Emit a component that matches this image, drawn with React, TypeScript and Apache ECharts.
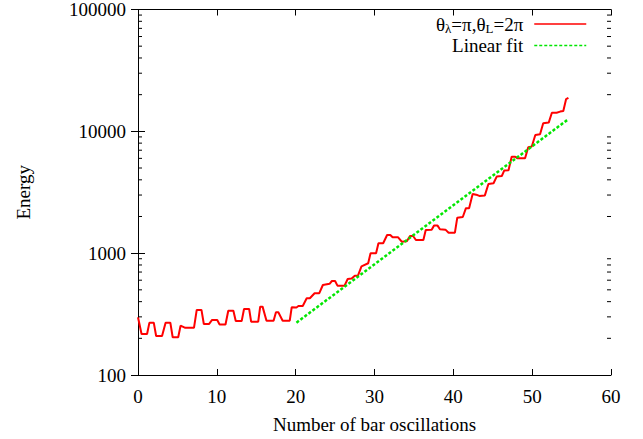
import { useEffect, useRef } from 'react';
import * as echarts from 'echarts';

const xTicks = [0, 10, 20, 30, 40, 50, 60];
const yRange = [100, 100000];
const minorTickValues = [
  200, 300, 400, 500, 600, 700, 800, 900,
  2000, 3000, 4000, 5000, 6000, 7000, 8000, 9000,
  20000, 30000, 40000, 50000, 60000, 70000, 80000, 90000,
];

const oscillations = [
  0.0, 0.45, 1.15, 1.45, 2.0, 2.3, 3.05, 3.5, 4.1, 4.4, 5.1, 5.4, 6.0, 7.1, 7.45, 8.05, 8.35, 9.0, 9.4, 10.05,
  10.35, 11.1, 11.45, 12.1, 12.4, 13.15, 13.45, 14.1, 14.35, 15.25, 15.5, 15.8, 16.3, 17.2, 17.5, 17.8, 18.35, 19.25,
  19.5, 20.1, 20.35, 20.9, 21.4, 21.8, 22.4, 23.0, 23.45, 24.3, 24.6, 25.0, 25.3, 26.2, 26.6, 27.1, 27.5, 27.9,
  28.35, 29.2, 29.5, 30.2, 30.5, 31.1, 31.6, 32.0, 32.3, 33.0, 33.45, 34.1, 34.5, 34.9, 35.25, 36.2, 36.5, 37.25,
  37.55, 38.0, 38.3, 39.0, 39.4, 40.2, 40.5, 41.2, 41.6, 42.0, 42.45, 43.05, 43.3, 44.0, 44.45, 45.1, 45.5, 46.15,
  46.45, 47.0, 47.4, 47.85, 48.1, 49.1, 49.5, 49.95, 50.4, 51.0, 51.4, 52.1, 52.5, 53.1, 53.55, 53.95, 54.3, 54.6,
];
const energy = [
  298, 217, 217, 269, 269, 209, 209, 269, 269, 204, 204, 254, 244, 244, 342, 342, 262, 262, 283, 283,
  260, 260, 337, 337, 277, 277, 348, 348, 274, 274, 364, 364, 279, 279, 327, 327, 279, 279,
  360, 358, 368, 368, 427, 427, 469, 469, 548, 560, 591, 591, 541, 541, 614, 620, 653, 653,
  780, 826, 1000, 1000, 1205, 1205, 1409, 1409, 1349, 1349, 1242, 1250, 1383, 1383, 1282, 1282, 1550, 1560,
  1683, 1683, 1570, 1560, 1472, 1472, 1955, 1980, 2340, 2340, 3060, 3000, 2950, 2980, 3700, 3750, 4250, 4300,
  4760, 4800, 6195, 6195, 6010, 6010, 7400, 7500, 9330, 9450, 11640, 11800, 14220, 14220, 14520, 14700, 18370, 18800,
];

const fitX = [20.1, 54.6];
const fitEnergy = [269, 12600];

const seriesNames = ['theta', 'Linear fit'];

const FONT = 'Liberation Serif';
const RED = '#ff0000';
const GREEN = '#00e600';

export default function App() {
  const ref = useRef<HTMLDivElement>(null);

  useEffect(() => {
    if (!ref.current) return;
    const chart = echarts.init(ref.current, null, { renderer: 'svg' });
    const xMin = xTicks[0];
    const xMax = xTicks[xTicks.length - 1];

    const baseText = { fontFamily: FONT, fontSize: 19, color: '#000' };

    const legendCommon = {
      orient: 'vertical',
      align: 'right',
      right: 56,
      padding: 0,
      itemWidth: 52,
      itemHeight: 14,
    };

    chart.setOption({
      animation: false,
      backgroundColor: '#fff',
      grid: { left: 138, right: 32, top: 9, bottom: 64, containLabel: false },
      legend: [
        {
          ...legendCommon,
          top: 13,
          data: [{ name: seriesNames[0], lineStyle: { width: 1.5, color: RED }, itemStyle: { opacity: 0 } }],
          formatter: () => '{n|θ}{s|λ}{n|=π,θ}{s|L}{n|=2π}',
          textStyle: {
            ...baseText,
            padding: [0, 6, 0, 0],
            rich: {
              n: { fontFamily: FONT, fontSize: 19, color: '#000', lineHeight: 20 },
              s: { fontFamily: FONT, fontSize: 13, color: '#000', lineHeight: 11, padding: [9, 0, 0, 0] },
            },
          },
        },
        {
          ...legendCommon,
          top: 36,
          data: [{ name: seriesNames[1], lineStyle: { width: 1.5, color: GREEN, type: [3, 2] }, itemStyle: { opacity: 0 } }],
          textStyle: { ...baseText, lineHeight: 15, padding: [0, 6, 0, 0] },
        },
      ],
      xAxis: [
        {
          type: 'value',
          min: xMin,
          max: xMax,
          interval: 10,
          name: 'Number of bar oscillations',
          nameLocation: 'middle',
          nameGap: 40,
          nameTextStyle: baseText,
          axisLine: { show: true, lineStyle: { color: '#000', width: 1 } },
          axisTick: { show: true, inside: true, length: 6, lineStyle: { color: '#000' } },
          axisLabel: { ...baseText, margin: 12 },
          splitLine: { show: false },
        },
        {
          type: 'value',
          position: 'top',
          min: xMin,
          max: xMax,
          interval: 10,
          axisLine: { show: true, lineStyle: { color: '#000', width: 1 } },
          axisTick: { show: true, inside: true, length: 6, lineStyle: { color: '#000' } },
          axisLabel: { show: false },
          splitLine: { show: false },
        },
      ],
      yAxis: [
        {
          type: 'log',
          logBase: 10,
          min: yRange[0],
          max: yRange[1],
          name: 'Energy',
          nameLocation: 'middle',
          nameGap: 105,
          nameTextStyle: baseText,
          axisLine: { show: true, lineStyle: { color: '#000', width: 1 } },
          axisTick: { show: true, inside: true, length: 7, lineStyle: { color: '#000' } },
          axisLabel: { ...baseText, margin: 12, formatter: (v: number) => String(Math.round(v)) },
          splitLine: { show: false },
        },
        {
          type: 'log',
          logBase: 10,
          position: 'right',
          min: yRange[0],
          max: yRange[1],
          axisLine: { show: true, lineStyle: { color: '#000', width: 1 } },
          axisTick: { show: true, inside: true, length: 7, lineStyle: { color: '#000' } },
          axisLabel: { show: false },
          splitLine: { show: false },
        },
      ],
      series: [
        {
          name: seriesNames[0],
          type: 'line',
          data: oscillations.map((x, i) => [x, energy[i]]),
          symbol: 'none',
          lineStyle: { color: RED, width: 2 },
          itemStyle: { color: RED },
          z: 3,
        },
        {
          name: seriesNames[1],
          type: 'line',
          data: fitX.map((x, i) => [x, fitEnergy[i]]),
          symbol: 'none',
          lineStyle: { color: GREEN, width: 2.5, type: [3, 2] },
          itemStyle: { color: GREEN },
          z: 4,
        },
        {
          name: 'minorTicks',
          type: 'custom',
          silent: true,
          clip: false,
          z: 5,
          data: minorTickValues.map((v) => [xMin, v]),
          renderItem: (_params: any, api: any) => {
            const v = api.value(1);
            const l = api.coord([xMin, v]);
            const r = api.coord([xMax, v]);
            return {
              type: 'group',
              children: [
                { type: 'line', shape: { x1: l[0], y1: l[1], x2: l[0] + 4, y2: l[1] }, style: { stroke: '#000', lineWidth: 1 } },
                { type: 'line', shape: { x1: r[0], y1: r[1], x2: r[0] - 4, y2: r[1] }, style: { stroke: '#000', lineWidth: 1 } },
              ],
            };
          },
        },
      ],
    });

    return () => chart.dispose();
  }, []);

  return (
    <div
      ref={ref}
      style={{ position: 'fixed', left: 0, top: 0, width: 643, height: 439 }}
    />
  );
}
